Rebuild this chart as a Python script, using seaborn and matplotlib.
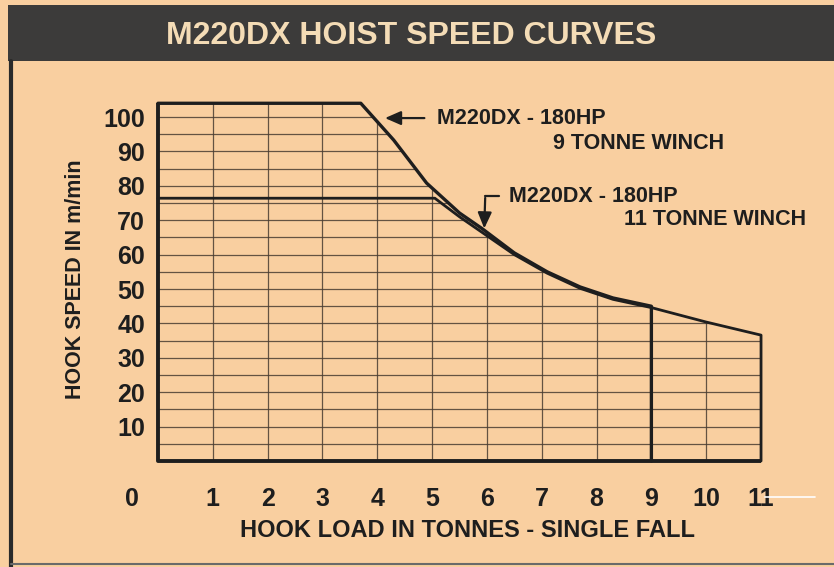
import matplotlib
matplotlib.use("Agg")
import matplotlib.pyplot as plt
import seaborn as sns
import numpy as np
from matplotlib.patches import Polygon, Rectangle
from matplotlib.lines import Line2D

# hoist speed curves (load in tonnes, speed in m/min)
load_9t = [0, 3.7, 4.3, 4.9, 5.5, 5.9, 6.5, 7.1, 7.7, 8.3, 9.0, 9.0]
speed_9t = [104, 104, 93.3, 80.8, 72.1, 67.7, 60.5, 55.0, 50.6, 47.4, 45.0, 0]

load_11t = [0, 5.05, 5.5, 5.9, 6.5, 7.1, 7.7, 8.3, 9.0, 10.0, 11.0, 11.0]
speed_11t = [76.4, 76.4, 71.0, 66.6, 60.0, 54.6, 50.2, 47.0, 44.6, 40.4, 36.6, 0]

x_ticks = list(range(1, 12))
y_ticks = list(range(10, 101, 10))
grid_y = list(range(5, 101, 5))
grid_x = list(range(1, 11))

BG = "#f9cfa0"
INK = "#1e1e1e"

sns.set_theme(style="white")
plt.rcParams["font.family"] = ["Liberation Sans", "DejaVu Sans"]
plt.rcParams["font.weight"] = "bold"

fig = plt.figure(figsize=(8.34, 5.67), dpi=100)
fig.patch.set_facecolor(BG)

# dark title banner
fig.patches.append(Rectangle((8 / 834, 1 - 61 / 567), 1, 56 / 567, transform=fig.transFigure,
                             facecolor="#3c3b3a", edgecolor="none", zorder=0))
fig.text(0.493, 0.936, "M220DX HOIST SPEED CURVES", color="#f4dcb6", fontsize=23,
         fontweight="bold", ha="center", va="center")
# panel border from the scan
fig.lines.append(Line2D([11 / 834, 11 / 834], [0, 1 - 61 / 567], transform=fig.transFigure,
                        color="#2a2a2a", lw=3))
fig.lines.append(Line2D([11 / 834, 1], [3 / 567, 3 / 567], transform=fig.transFigure,
                        color="#6a6a6a", lw=1.5))
fig.lines.append(Line2D([765 / 834, 815 / 834], [1 - 497 / 567, 1 - 497 / 567],
                        transform=fig.transFigure, color="white", lw=1.2))

ax = fig.add_axes([147 / 834, 1 - 467.9 / 567, 625 / 834, 371.5 / 567])
ax.set_facecolor("none")
ax.set_xlim(-0.2, 11.2)
ax.set_ylim(-2, 106)
for s in ax.spines.values():
    s.set_visible(False)

# envelope used to clip the grid
env = [(0, 0)] + list(zip(load_9t[:-1], speed_9t[:-1])) + \
      list(zip(load_11t[9:], speed_11t[9:]))
clip = Polygon(env, closed=True, transform=ax.transData, facecolor="none", edgecolor="none")
ax.add_patch(clip)

hl = ax.hlines(grid_y, 0, 11, colors="#4a3d32", linewidth=0.9, alpha=0.85)
vl = ax.vlines(grid_x, 0, 110, colors="#4a3d32", linewidth=0.9, alpha=0.85)
hl.set_clip_path(clip)
vl.set_clip_path(clip)

# axes frame
ax.plot([0, 0, 11], [104, 0, 0], color=INK, lw=2.8, solid_capstyle="butt")

sns.lineplot(x=load_9t, y=speed_9t, sort=False, estimator=None, color=INK, lw=2.4, ax=ax)
sns.lineplot(x=load_11t, y=speed_11t, sort=False, estimator=None, color=INK, lw=2.0, ax=ax)

ax.set_xticks(x_ticks)
ax.set_xticklabels([str(v) for v in x_ticks], fontsize=18, fontweight="bold", color=INK)
ax.set_yticks(y_ticks)
ax.set_yticklabels([str(v) for v in y_ticks], fontsize=18, fontweight="bold", color=INK)
ax.tick_params(axis="x", length=0, pad=14)
ax.tick_params(axis="y", length=0, pad=1.5)
ax.text(-0.47, -0.085, "0", transform=ax.get_xaxis_transform(), fontsize=18,
        fontweight="bold", color=INK, ha="center", va="center")

# curve labels
ax.annotate("", xy=(4.09, 99.7), xytext=(4.91, 99.7),
            arrowprops=dict(arrowstyle="-|>,head_length=0.8,head_width=0.35", color=INK, lw=1.6))
ax.text(5.09, 99.7, "M220DX - 180HP", fontsize=15.5, fontweight="bold", color=INK, va="center")
ax.text(7.21, 92.4, "9 TONNE WINCH", fontsize=15.5, fontweight="bold", color=INK, va="center")

ax.plot([6.22, 5.97], [77.0, 77.0], color=INK, lw=1.6)
ax.annotate("", xy=(5.95, 66.8), xytext=(5.97, 77.3),
            arrowprops=dict(arrowstyle="-|>,head_length=0.8,head_width=0.35", color=INK, lw=1.6))
ax.text(6.41, 77.0, "M220DX - 180HP", fontsize=15.5, fontweight="bold", color=INK, va="center")
ax.text(8.50, 70.1, "11 TONNE WINCH", fontsize=15.5, fontweight="bold", color=INK, va="center")

fig.text(0.09, 0.508, "HOOK SPEED IN m/min", rotation=90, fontsize=15.5, fontweight="bold",
         color=INK, ha="center", va="center")
fig.text(0.561, 0.065, "HOOK LOAD IN TONNES - SINGLE FALL", fontsize=17, fontweight="bold",
         color=INK, ha="center", va="center")

fig.savefig("out.png", dpi=100, facecolor=fig.get_facecolor())
